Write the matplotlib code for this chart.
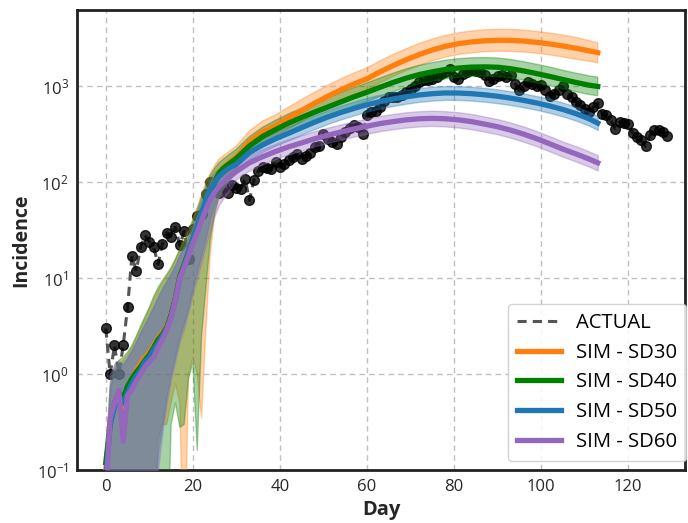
import matplotlib
matplotlib.use("Agg")
import matplotlib.pyplot as plt
import numpy as np

plt.rcParams['font.family'] = ['Open Sans', 'DejaVu Sans']
plt.rcParams['mathtext.fontset'] = 'custom'
plt.rcParams['mathtext.rm'] = 'Open Sans'
plt.rcParams['mathtext.it'] = 'Open Sans:italic'
plt.rcParams['mathtext.bf'] = 'Open Sans:bold'

# ---------------- ACTUAL incidence (days 0..129) ----------------
actual_days = list(range(0, 130))
actual = [3, 1, 2, 1, 2, 5, 17, 12, 21, 28,
          24, 21, 14, 23, 30, 27, 34, 22, 31, 16,
          33, 45, 47, 75, 100, 85, 77, 90, 77, 95,
          88, 85, 109, 65, 105, 130, 145, 140, 138, 163,
          145, 155, 170, 183, 198, 175, 190, 202, 233, 240,
          322, 280, 263, 253, 300, 334, 370, 392, 380, 322,
          500, 540, 560, 610, 700, 774, 774, 774, 820, 873,
          946, 1000, 1110, 1155, 1155, 1200, 1250, 1355, 1420, 1530,
          1250, 1200, 1355, 1410, 1470, 1450, 1400, 1300, 1150, 1200,
          1280, 1300, 1250, 1300, 1070, 910, 1000, 1110, 1050, 1000,
          1025, 910, 800, 840, 910, 1000, 840, 780, 690, 634,
          585, 540, 610, 670, 518, 500, 443, 363, 425, 415,
          410, 326, 296, 274, 237, 308, 348, 354, 334, 302]

# ---------------- Simulations ----------------
sim_days = list(range(0, 29)) + list(range(30, 112, 3)) + [113]

sd30_mean = [0.1, 0.32, 0.45, 0.6, 0.45, 0.7, 0.85, 1.1, 1.3, 1.5, 1.7, 2.0, 2.4, 2.7, 3.2, 4.3, 6.5, 10.5, 14, 19.5,
             27, 36, 48, 63, 85, 105, 128, 142, 157,
             185, 265, 335, 390, 470, 560, 670, 790, 920, 1060, 1200, 1420, 1650, 1900, 2150, 2400, 2620, 2790,
             2910, 2990, 3030, 3020, 2970, 2880, 2770, 2640, 2500, 2350, 2250]
sd30_upper = [0.12, 0.7, 1.1, 1.3, 1.4, 1.6, 1.9, 2.4, 3.0, 3.8, 4.8, 6.0, 7.5, 9.0, 10.5, 12.5, 15.5, 20, 25, 31,
              42, 55, 75, 100, 125, 150, 175, 190, 205,
              240, 345, 435, 505, 610, 730, 870, 1030, 1200, 1380, 1560, 1850, 2150, 2470, 2800, 3120, 3400, 3630,
              3780, 3890, 3940, 3930, 3860, 3740, 3600, 3430, 3250, 3000, 2850]
sd30_lower = [0.005, 0.005, 0.005, 0.005, 0.005, 0.005, 0.005, 0.005, 0.005, 0.005, 0.005, 0.005, 0.2, 0.3, 0.3, 0.5,
              0.8, 0.5, 0.005, 1.0, 1.5, 1.0, 0.35, 3, 18, 45, 70, 85, 100,
              142, 204, 258, 300, 362, 430, 515, 608, 708, 815, 923, 1090, 1270, 1460, 1650, 1850, 2020, 2150,
              2240, 2300, 2330, 2320, 2280, 2215, 2130, 2030, 1920, 1830, 1760]

sd40_mean = [0.12, 0.3, 0.5, 0.65, 0.55, 0.75, 0.9, 1.05, 1.2, 1.4, 1.6, 1.9, 2.3, 2.6, 3.1, 4.2, 6.3, 10.5, 14, 19,
             26, 35, 47, 62, 82, 102, 125, 140, 152,
             178, 240, 300, 355, 415, 475, 540, 610, 690, 780, 870, 980, 1100, 1220, 1330, 1420, 1500, 1555,
             1590, 1600, 1585, 1530, 1450, 1360, 1270, 1180, 1100, 1030, 1000]
sd40_upper = [0.12, 0.75, 1.2, 1.4, 1.5, 1.7, 2.0, 2.5, 3.2, 4.0, 5.0, 6.5, 8.0, 9.5, 11, 13, 16, 20, 24, 30,
              40, 52, 70, 92, 118, 140, 160, 175, 190,
              222, 300, 375, 444, 519, 594, 675, 763, 863, 975, 1090, 1225, 1375, 1525, 1660, 1775, 1875, 1945,
              1990, 2000, 1980, 1910, 1810, 1700, 1590, 1475, 1375, 1290, 1250]
sd40_lower = [0.005, 0.005, 0.005, 0.005, 0.005, 0.005, 0.005, 0.005, 0.005, 0.005, 0.005, 0.005, 0.005, 0.005,
              0.005, 0.3, 0.5, 0.28, 0.3, 0.9, 1.3, 0.16, 2.5, 8, 25, 48, 72, 88, 102,
              142, 192, 240, 284, 332, 380, 432, 488, 552, 624, 696, 784, 880, 976, 1064, 1136, 1200, 1244,
              1272, 1280, 1268, 1224, 1160, 1088, 1016, 944, 880, 824, 800]

sd50_mean = [0.08, 0.3, 0.45, 0.6, 0.5, 0.65, 0.8, 0.95, 1.1, 1.35, 1.5, 1.8, 2.1, 2.5, 3.0, 4.0, 6.0, 10, 13.5, 19,
             26, 35, 48, 65, 85, 100, 115, 127, 138,
             155, 205, 245, 285, 325, 372, 425, 480, 535, 590, 645, 695, 740, 780, 815, 840, 855, 853,
             840, 818, 790, 755, 715, 672, 625, 575, 520, 460, 415]
sd50_upper = [0.12, 0.7, 1.1, 1.3, 1.3, 1.5, 1.8, 2.2, 2.8, 3.4, 4.2, 5.2, 6.5, 8.0, 9.5, 11.5, 14, 18, 22, 28,
              38, 50, 66, 88, 112, 128, 142, 155, 165,
              183, 242, 289, 336, 384, 439, 502, 566, 631, 696, 761, 820, 873, 920, 962, 991, 1009, 1007,
              991, 965, 932, 891, 844, 793, 738, 679, 614, 543, 490]
sd50_lower = [0.005, 0.005, 0.005, 0.005, 0.005, 0.005, 0.005, 0.005, 0.005, 0.005, 0.005, 0.05, 0.15, 0.3, 0.6,
              1.0, 1.6, 2.5, 3.5, 5, 8, 12, 18, 27, 42, 60, 78, 90, 100,
              131, 174, 208, 242, 275, 315, 360, 407, 453, 500, 547, 589, 627, 661, 691, 712, 725, 723,
              712, 693, 669, 640, 606, 569, 530, 487, 441, 390, 352]

sd60_mean = [0.05, 0.35, 0.5, 0.68, 0.2, 0.6, 0.7, 0.85, 1.0, 1.2, 1.35, 1.5, 1.9, 2.3, 2.9, 3.9, 6.0, 10, 13, 17,
             23, 30, 40, 52, 66, 79, 90, 100, 110,
             130, 160, 185, 210, 235, 258, 285, 310, 335, 360, 385, 410, 430, 448, 460, 465, 460, 448,
             430, 405, 380, 350, 318, 285, 252, 222, 198, 175, 160]
sd60_upper = [0.12, 1.0, 1.3, 1.4, 1.2, 1.5, 1.8, 2.2, 2.7, 3.2, 4.0, 5.0, 6.2, 7.5, 9.0, 11, 13.5, 17, 21, 27,
              35, 45, 58, 75, 92, 105, 115, 125, 135,
              156, 192, 222, 252, 282, 310, 342, 372, 402, 432, 462, 492, 516, 538, 552, 558, 552, 538,
              516, 486, 456, 420, 382, 342, 302, 266, 238, 210, 192]
sd60_lower = [0.005, 0.005, 0.005, 0.005, 0.005, 0.005, 0.005, 0.005, 0.005, 0.005, 0.005, 0.04, 0.1, 0.25, 0.5,
              0.9, 1.4, 2.2, 3, 4.5, 7, 10, 15, 22, 32, 45, 58, 68, 78,
              108, 133, 154, 175, 196, 215, 238, 258, 279, 300, 321, 342, 358, 373, 383, 388, 383, 373,
              358, 338, 317, 292, 265, 238, 210, 185, 165, 146, 133]

sim_labels = ["SIM - SD30", "SIM - SD40", "SIM - SD50", "SIM - SD60"]
sim_colors = ["#ff7f0e", "#008000", "#1f77b4", "#9467bd"]
sim_means = [sd30_mean, sd40_mean, sd50_mean, sd60_mean]
sim_uppers = [sd30_upper, sd40_upper, sd50_upper, sd60_upper]
sim_lowers = [sd30_lower, sd40_lower, sd50_lower, sd60_lower]

x_ticks = [0, 20, 40, 60, 80, 100, 120]

# ---------------- Plot ----------------
fig = plt.figure(figsize=(6.88, 5.23), dpi=100)
ax = fig.add_axes([0.112, 0.101, 0.884, 0.880])

ax.plot(actual_days, actual, linestyle=(0, (3, 2)), color="#555555", lw=2.2,
        label="ACTUAL", zorder=2)
ax.plot(actual_days, actual, linestyle="none", marker="o", ms=7, color="black",
        alpha=0.8, zorder=2)

for m, lo, up, c, lab in zip(sim_means, sim_lowers, sim_uppers, sim_colors, sim_labels):
    ax.fill_between(sim_days, lo, up, color=c, alpha=0.35, lw=1, zorder=3)
    ax.plot(sim_days, m, color=c, lw=3.8, label=lab, zorder=4)

ax.set_yscale("log")
ax.set_ylim(0.1, 6270)
ax.set_xlim(-6.6, 133.1)
ax.set_xticks(x_ticks)
ax.minorticks_off()
ax.yaxis.set_minor_locator(matplotlib.ticker.NullLocator())

ax.grid(True, which="major", linestyle=(0, (4, 3)), color="#c0c0c0", lw=1)
ax.set_axisbelow(True)
for s in ax.spines.values():
    s.set_color("#222222")
    s.set_linewidth(2)
ax.tick_params(axis="both", length=0, labelsize=12, colors="#262626", pad=6)

ax.set_xlabel("Day", fontsize=14.5, fontweight="bold", color="#262626")
ax.set_ylabel("Incidence", fontsize=14, fontweight="bold", color="#262626")

leg = ax.legend(loc="lower right", bbox_to_anchor=(1.002, 0.02), borderaxespad=0,
                fontsize=14.6, frameon=True, fancybox=True,
                framealpha=0.85, edgecolor="#cccccc", borderpad=0.45,
                handlelength=2.15, handletextpad=0.75, labelspacing=0.48)
for h in leg.get_lines():
    h.set_linewidth(3.8)
leg.get_lines()[0].set_linewidth(2.2)

fig.savefig("out.png", dpi=100)
